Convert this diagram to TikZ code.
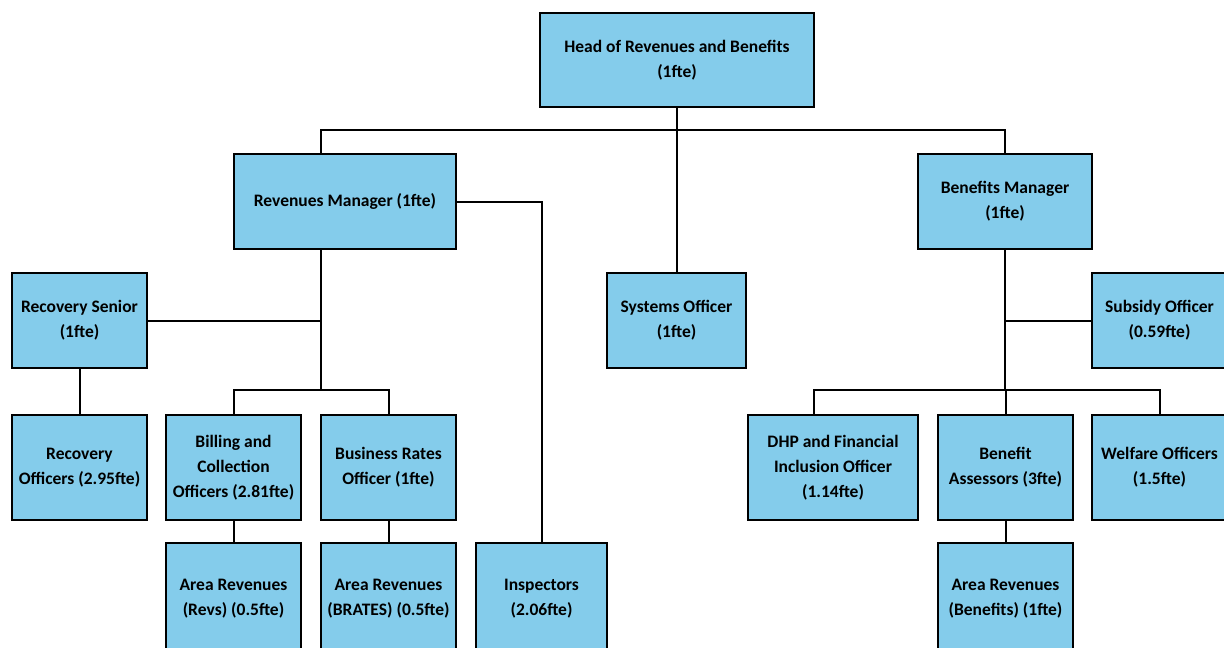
\documentclass[tikz,border=0pt]{standalone}
\usepackage{fontspec}
\setmainfont{Carlito}
\definecolor{boxblue}{RGB}{132,204,235}
\tikzset{
  post/.style={draw=black, line width=2pt, fill=boxblue, align=center,
    inner sep=2pt, font=\bfseries\fontsize{17.5}{25}\selectfont},
  link/.style={black, line width=2pt}
}
\begin{document}
\begin{tikzpicture}[x=1pt,y=-1pt]
  \useasboundingbox (0,0) rectangle (1224,648);
  \clip (0,0) rectangle (1224,648);
  %% top level
  \node [post, minimum width=274, minimum height=94] (head) at (677,60) {Head of Revenues and Benefits\\(1fte)};
  \node [post, minimum width=222, minimum height=95] (revmgr) at (345,201.5) {Revenues Manager (1fte)};
  \node [post, minimum width=174, minimum height=95] (benmgr) at (1005,201.5) {Benefits Manager\\(1fte)};
  \node [post, minimum width=139, minimum height=95] (sysoff) at (676.5,320.5) {Systems Officer\\(1fte)};
  \node [post, minimum width=135, minimum height=95] (recsen) at (79.5,320.5) {Recovery Senior\\(1fte)};
  \node [post, minimum width=135, minimum height=95] (subsidy) at (1159.5,320.5) {Subsidy Officer\\(0.59fte)};
  %% officers
  \node [post, minimum width=135, minimum height=105] (recoff) at (79.5,467.5) {Recovery\\Officers (2.95fte)};
  \node [post, minimum width=135, minimum height=105] (billing) at (233.5,467.5) {Billing and\\Collection\\Officers (2.81fte)};
  \node [post, minimum width=135, minimum height=105] (busrates) at (388.5,467.5) {Business Rates\\Officer (1fte)};
  \node [post, minimum width=170, minimum height=105] (dhp) at (833,467.5) {DHP and Financial\\Inclusion Officer\\(1.14fte)};
  \node [post, minimum width=135, minimum height=105] (benass) at (1005.5,467.5) {Benefit\\Assessors (3fte)};
  \node [post, minimum width=135, minimum height=105] (welfare) at (1159.5,467.5) {Welfare Officers\\(1.5fte)};
  %% bottom row
  \node [post, minimum width=135, minimum height=111] (arearevs) at (233.5,598.5) {Area Revenues\\(Revs) (0.5fte)};
  \node [post, minimum width=135, minimum height=111] (areabrates) at (388.5,598.5) {Area Revenues\\(BRATES) (0.5fte)};
  \node [post, minimum width=131, minimum height=111] (inspectors) at (541.5,598.5) {Inspectors\\(2.06fte)};
  \node [post, minimum width=135, minimum height=111] (areaben) at (1005.5,598.5) {Area Revenues\\(Benefits) (1fte)};
  %% trunks
  \coordinate (hbus) at (677,130);
  \coordinate (revtrunk) at (321,390);
  \coordinate (bentrunk) at (1005,390);
  \draw [link] (head.south) -- (head.south |- sysoff.north);
  \draw [link] (revmgr.north -| revtrunk) |- (hbus) -| (benmgr.north);
  \draw [link] (revmgr.south -| revtrunk) -- (revtrunk);
  \draw [link] (recsen.east) -- (recsen.east -| revtrunk);
  \draw [link] (billing.north) |- (revtrunk) -| (busrates.north);
  \draw [link] (revmgr.east) -| (inspectors.north);
  \draw [link] (recsen.south) -- (recoff.north);
  \draw [link] (billing.south) -- (arearevs.north);
  \draw [link] (busrates.south) -- (areabrates.north);
  \draw [link] (benmgr.south) -- (bentrunk);
  \draw [link] (subsidy.west) -- (subsidy.west -| bentrunk);
  \draw [link] ([xshift=-19]dhp.north) |- (bentrunk) -| (welfare.north);
  \draw [link] (benass.north) -- (benass.north |- bentrunk);
  \draw [link] (benass.south) -- (areaben.north);
\end{tikzpicture}
\end{document}
